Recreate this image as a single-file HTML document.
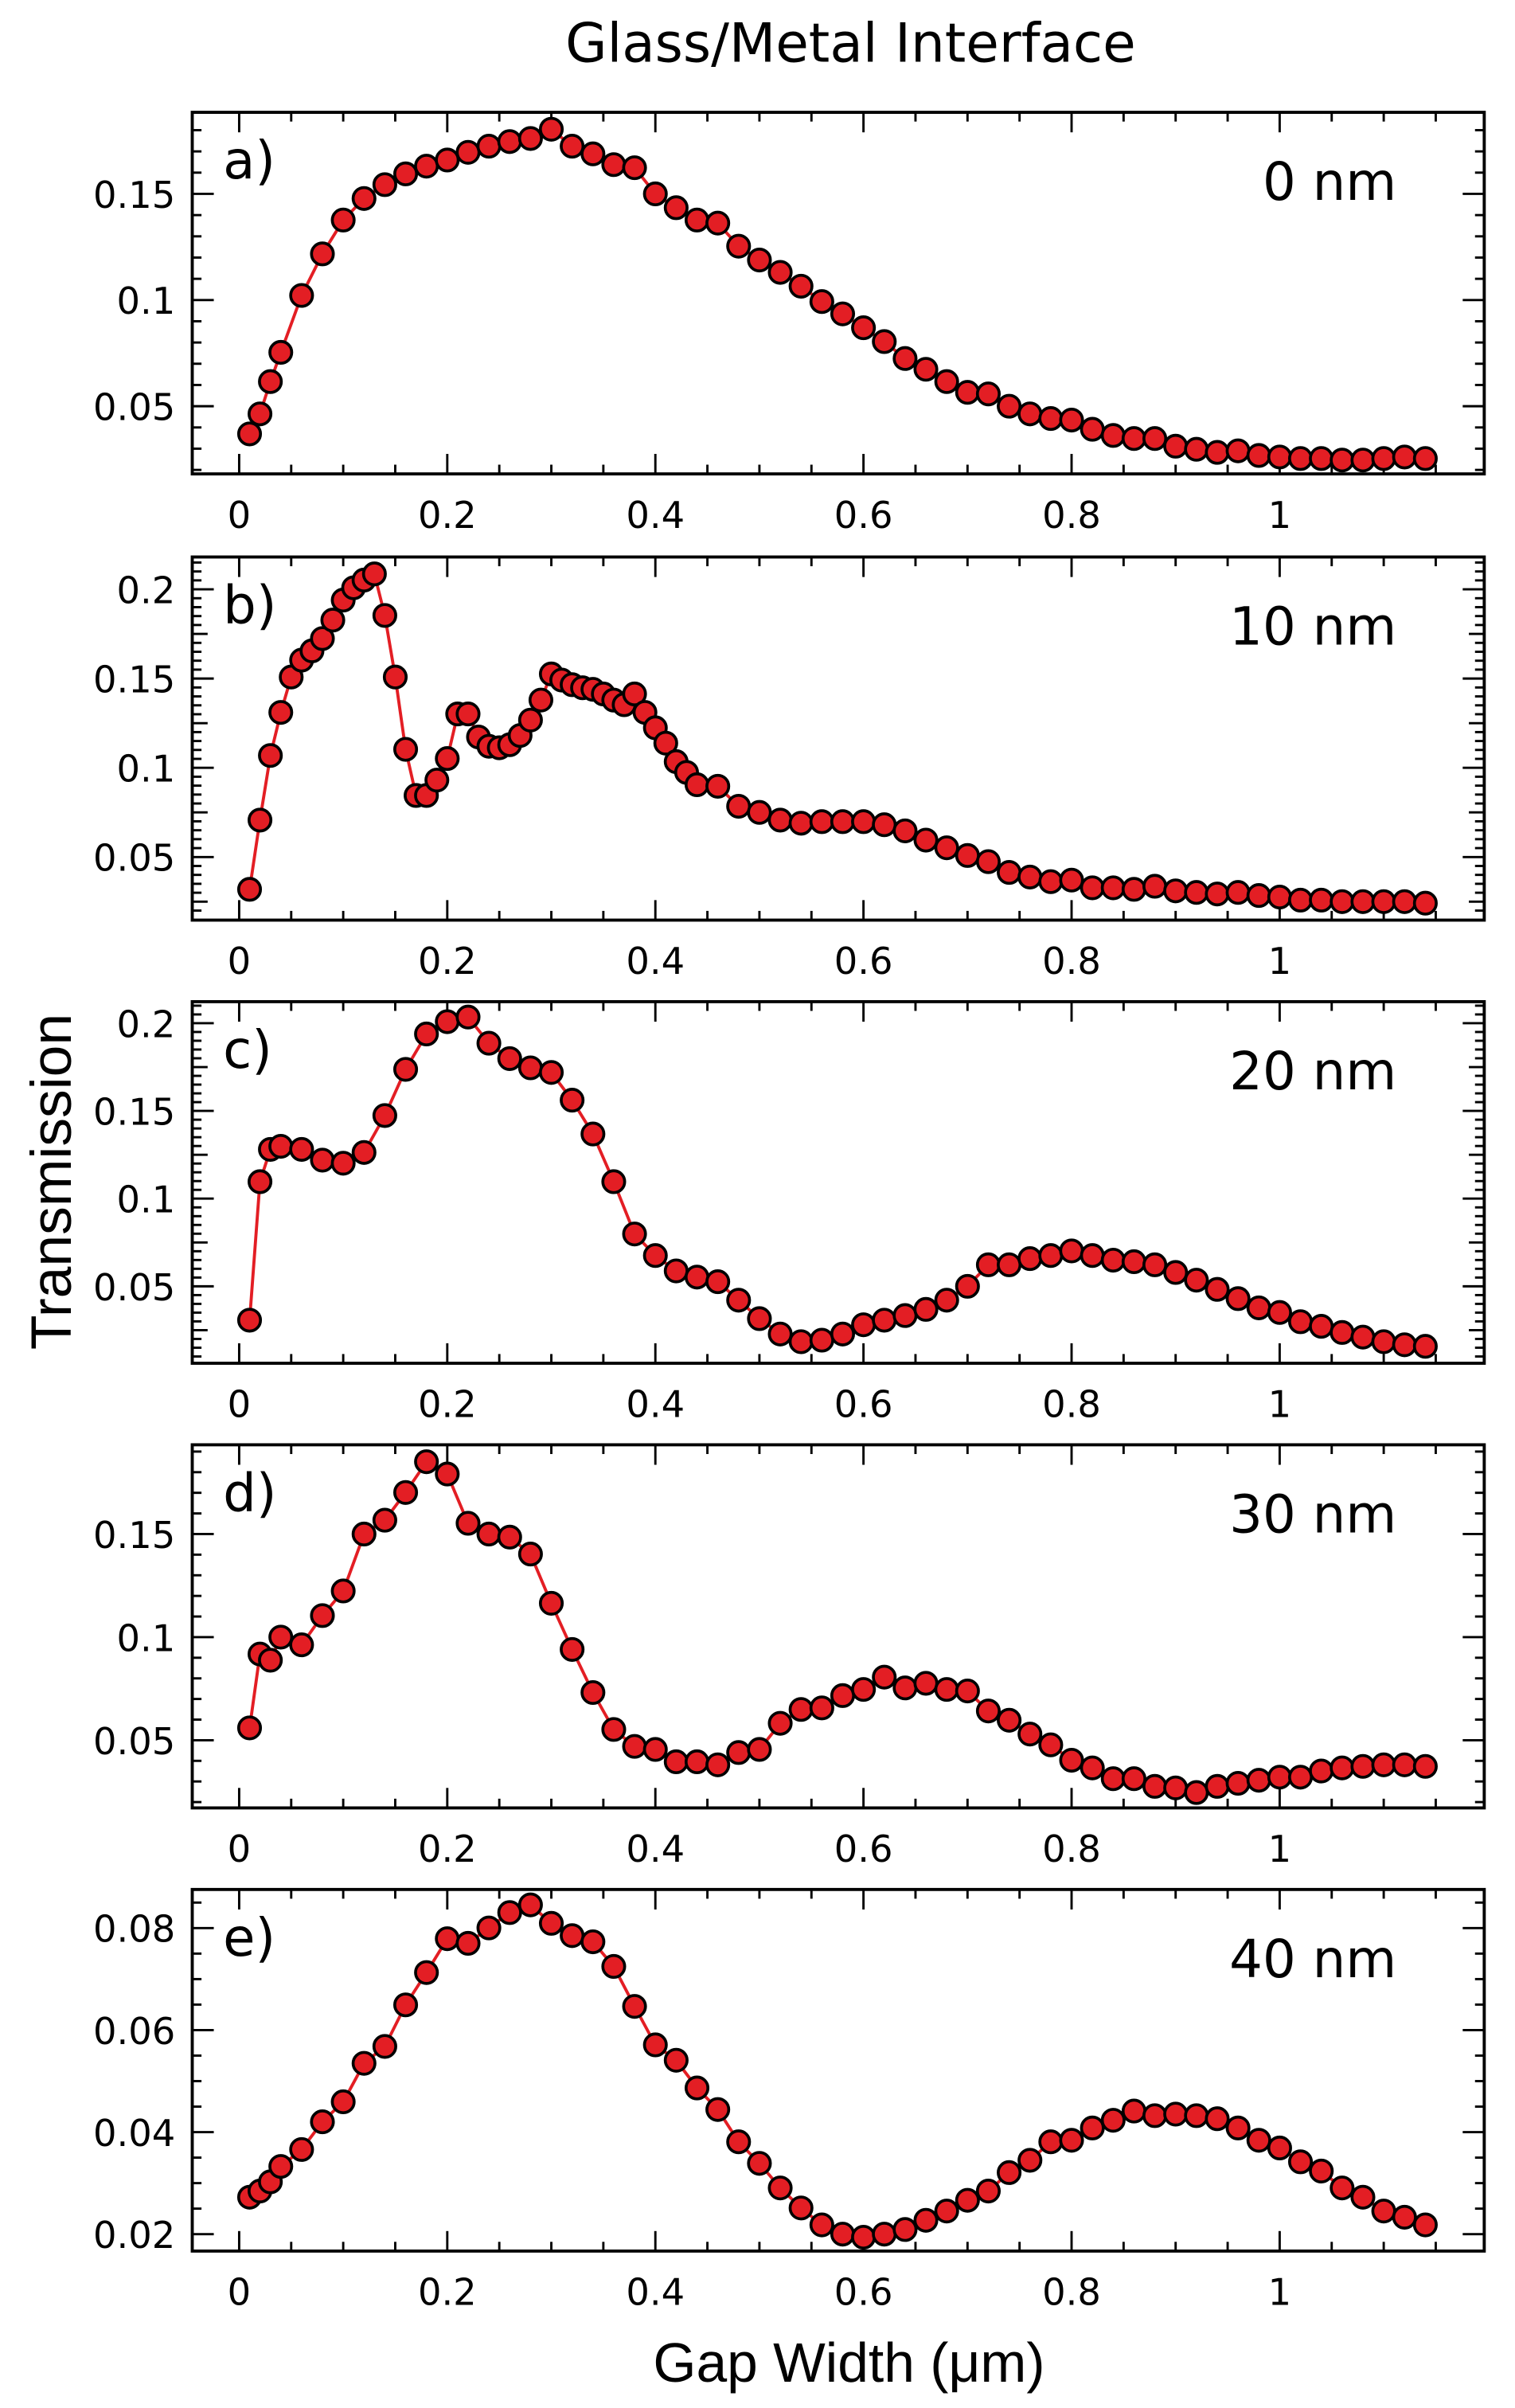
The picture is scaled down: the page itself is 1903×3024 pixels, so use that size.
<!DOCTYPE html>
<html><head><meta charset="utf-8"><style>
html,body{margin:0;padding:0;background:#fff;}
svg{display:block;}
</style></head><body>
<svg id="s" xmlns="http://www.w3.org/2000/svg" width="1903" height="3024" viewBox="0 0 985 1565" preserveAspectRatio="none">
<rect width="985" height="1565" fill="#fff"/>
<text x="553" y="40" font-family="DejaVu Sans, sans-serif" font-size="35" text-anchor="middle">Glass/Metal Interface</text>
<text transform="translate(46,768) rotate(-90)" font-family="Liberation Sans, sans-serif" font-size="37" text-anchor="middle">Transmission</text>
<text x="552" y="1548" font-family="Liberation Sans, sans-serif" font-size="36" text-anchor="middle">Gap Width (μm)</text>
<g id="g"></g>
</svg>
<script>
var NS="http://www.w3.org/2000/svg",G=document.getElementById('g');
function el(t,a,txt){var e=document.createElementNS(NS,t);for(var k in a)e.setAttribute(k,a[k]);if(txt!=null)e.textContent=txt;G.appendChild(e);return e;}
var L=125,R=965,X0=155.5,XS=676.5;
function X(v){return X0+XS*v;}
var std=[0.01,0.02,0.03,0.04];for(var i=0.06;i<1.141;i+=0.02)std.push(+i.toFixed(2));
var bx=[];for(var i=1;i<=44;i++)bx.push(i/100);for(var i=0.46;i<1.141;i+=0.02)bx.push(+i.toFixed(2));
var P=[
{T:73,B:308,ref:0.05,refy:264,k:1380,maj:0.05,min:0.01,med:0,lab:"a)",nm:"0 nm",labs:[[0.05,"0.05"],[0.1,"0.1"],[0.15,"0.15"]],xs:std,
ys:[282,269,248,229,192,165,143,129,120,113,108,104,99,95,92,90,84,95,100,107,109,126,135,143,145,160,169,177,186,196,204,213,222,233,240,248,255,256,264,269,272,273,279,283,285,285,290,292,294,293,296,297,298,298,299,299,298,297,298]},
{T:362,B:598,ref:0.05,refy:557,k:1160,maj:0.05,min:0.005,med:0.025,lab:"b)",nm:"10 nm",labs:[[0.05,"0.05"],[0.1,"0.1"],[0.15,"0.15"],[0.2,"0.2"]],xs:bx,
ys:[578,533,491,463,440,429,423,415,403,390,382,377,373,400,440,487,517,517,507,493,464,464,479,485,486,484,478,468,455,438,442,445,447,448,451,455,458,451,463,473,483,495,502,510,511,524,528,533,535,534,534,534,536,540,546,551,556,560,567,570,573,572,577,577,578,576,579,580,581,580,582,583,585,585,586,586,586,586,587]},
{T:651,B:886,ref:0.05,refy:836,k:1140,maj:0.05,min:0.005,med:0.025,lab:"c)",nm:"20 nm",labs:[[0.05,"0.05"],[0.1,"0.1"],[0.15,"0.15"],[0.2,"0.2"]],xs:std,
ys:[858,768,747,745,747,754,756,749,725,695,672,664,661,678,688,694,697,715,737,768,802,816,826,830,833,845,857,867,872,871,867,861,858,855,851,845,836,822,822,818,816,813,816,819,820,822,827,832,838,844,850,853,859,862,866,869,872,874,875]},
{T:939,B:1175,ref:0.05,refy:1131,k:1340,maj:0.05,min:0.01,med:0,lab:"d)",nm:"30 nm",labs:[[0.05,"0.05"],[0.1,"0.1"],[0.15,"0.15"]],xs:std,
ys:[1123,1075,1079,1064,1069,1050,1034,997,988,970,950,958,990,997,999,1010,1042,1072,1100,1124,1135,1137,1145,1145,1147,1139,1137,1120,1111,1110,1102,1098,1090,1097,1094,1098,1099,1112,1118,1127,1134,1144,1149,1156,1156,1161,1162,1165,1161,1159,1157,1155,1155,1151,1149,1148,1147,1147,1148]},
{T:1228,B:1463,ref:0.02,refy:1452,k:3315,maj:0.02,min:0.005,med:0,lab:"e)",nm:"40 nm",labs:[[0.02,"0.02"],[0.04,"0.04"],[0.06,"0.06"],[0.08,"0.08"]],xs:std,
ys:[1428,1424,1418,1408,1397,1379,1366,1341,1330,1303,1282,1260,1263,1253,1243,1238,1250,1258,1262,1278,1304,1329,1339,1357,1371,1392,1406,1422,1435,1446,1452,1454,1452,1449,1443,1437,1430,1424,1412,1404,1392,1391,1383,1378,1372,1375,1374,1375,1377,1383,1391,1396,1405,1411,1422,1428,1437,1441,1446]}
];
P.forEach(function(p){
 var Y=function(v){return p.refy-(v-p.ref)*p.k;};
 el('rect',{x:L,y:p.T,width:R-L,height:p.B-p.T,fill:'none',stroke:'#000','stroke-width':2});
 for(var i=0;i<=23;i++){var v=i*0.05,x=X(v),mj=(i%4==0),len=mj?13:6;
  el('line',{x1:x,x2:x,y1:p.B,y2:p.B-len,stroke:'#000','stroke-width':1.5});
  el('line',{x1:x,x2:x,y1:p.T,y2:p.T+len,stroke:'#000','stroke-width':1.5});}
 [0,0.2,0.4,0.6,0.8,1].forEach(function(v){el('text',{x:X(v),y:p.B+35,'font-family':'DejaVu Sans, sans-serif','font-size':24,'text-anchor':'middle'},v==0?"0":(v==1?"1":String(v)));});
 var n=Math.round(0.3/p.min);
 for(var i=0;i<=n;i++){var v=i*p.min,y=Y(v);if(y<p.T+1||y>p.B-1)continue;
  var r=v/p.maj,mj=Math.abs(r-Math.round(r))<1e-6,md=p.med&&Math.abs(v/p.med-Math.round(v/p.med))<1e-6;
  var len=mj?14:(md?10:6);
  el('line',{x1:L,x2:L+len,y1:y,y2:y,stroke:'#000','stroke-width':1.5});
  el('line',{x1:R,x2:R-len,y1:y,y2:y,stroke:'#000','stroke-width':1.5});}
 p.labs.forEach(function(l){el('text',{x:114,y:Y(l[0])+9,'font-family':'DejaVu Sans, sans-serif','font-size':24,'text-anchor':'end'},l[1]);});
 el('text',{x:145,y:p.T+43,'font-family':'DejaVu Sans, sans-serif','font-size':34},p.lab);
 el('text',{x:908,y:p.T+57,'font-family':'DejaVu Sans, sans-serif','font-size':34,'text-anchor':'end'},p.nm);
 var pts=[];for(var i=0;i<p.xs.length&&i<p.ys.length;i++)pts.push(X(p.xs[i]).toFixed(1)+','+p.ys[i]);
 el('polyline',{points:pts.join(' '),fill:'none',stroke:'#e31e24','stroke-width':2});
 for(var i=0;i<p.xs.length&&i<p.ys.length;i++)el('circle',{cx:X(p.xs[i]),cy:p.ys[i],r:7.1,fill:'#e31e24',stroke:'#000','stroke-width':1.9});
});
</script>
</body></html>
